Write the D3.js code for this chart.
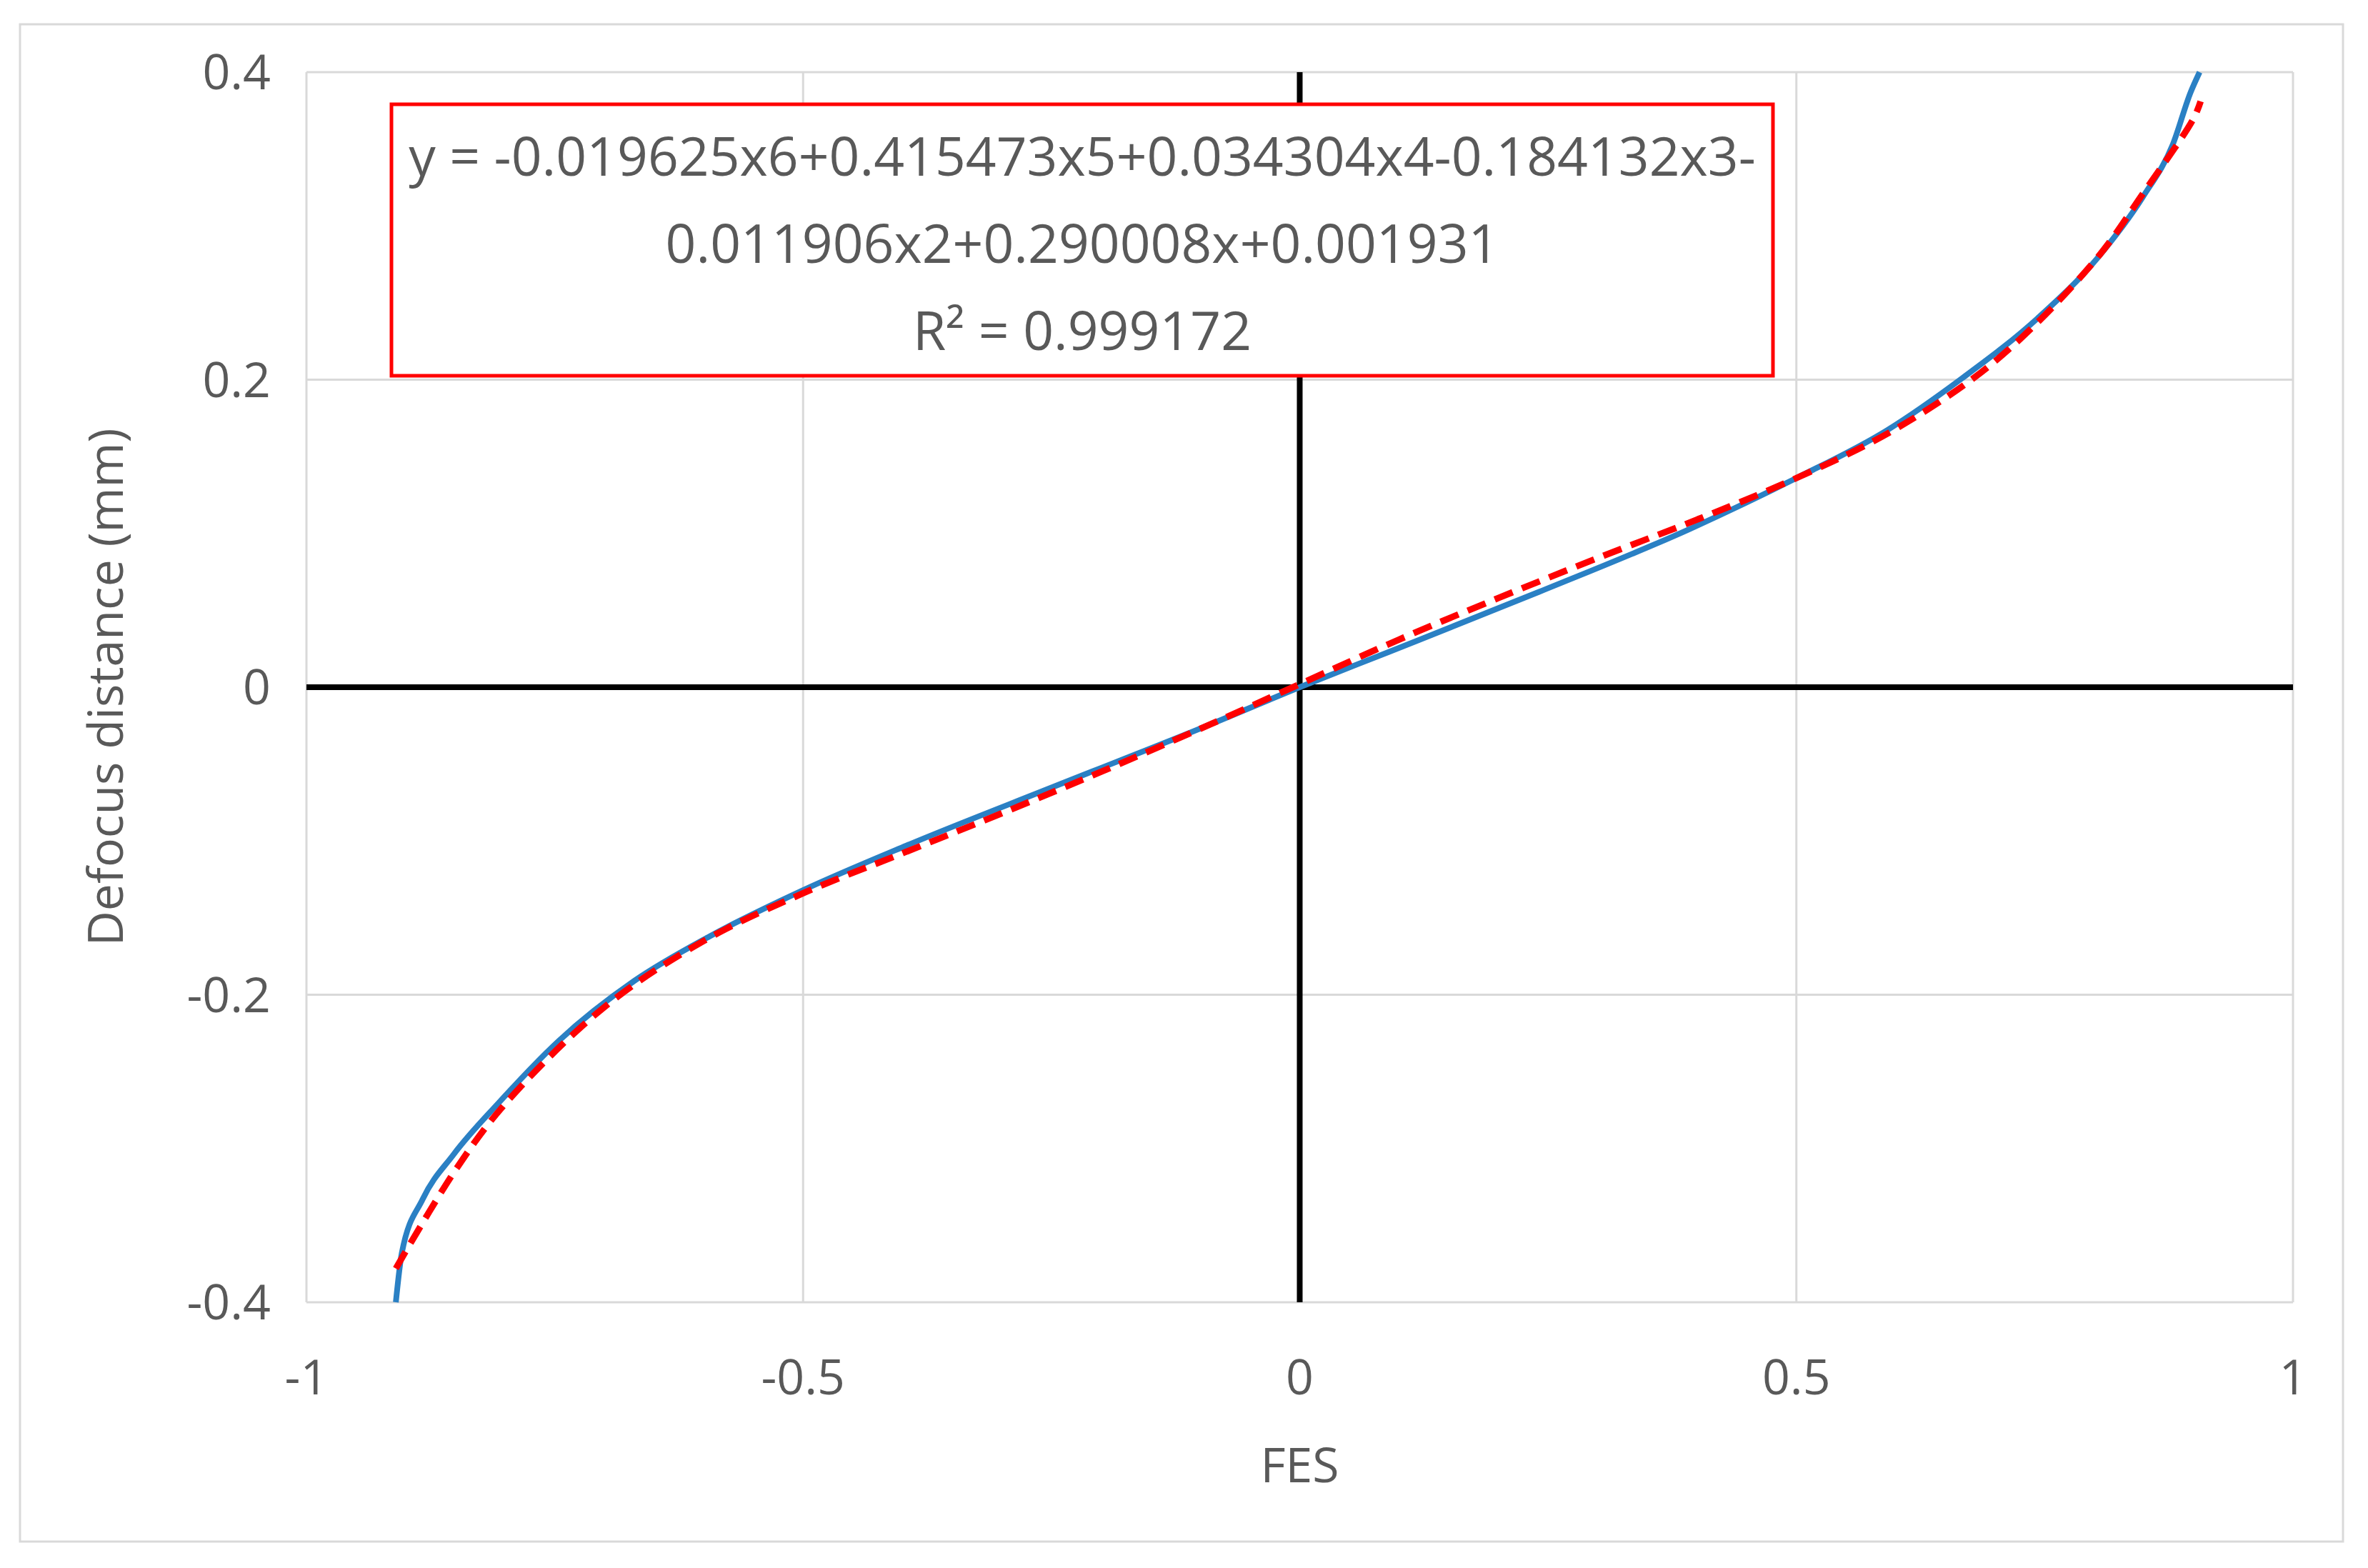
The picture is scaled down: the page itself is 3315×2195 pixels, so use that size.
<!DOCTYPE html>
<html><head><meta charset="utf-8">
<script src="https://cdn.jsdelivr.net/npm/d3@7"></script>
<style>body{margin:0;background:#fff}svg{display:block}text{font-family:"Open Sans","Noto Sans",sans-serif;fill:#595959}</style>
</head><body><svg id="c" width="3315" height="2195"></svg>
<script>
const xTicks=[-1,-0.5,0,0.5,1];
const yTicks=[-0.4,-0.2,0,0.2,0.4];
const measuredX=[-0.910,-0.904,-0.883,-0.852,-0.806,-0.746,-0.670,-0.594,-0.5,-0.396,-0.245,-0.093,0,0.09,0.241,0.393,0.5,0.591,0.667,0.743,0.803,0.849,0.879,0.897,0.906];
const measuredY=[-0.4,-0.368,-0.333,-0.304,-0.270,-0.230,-0.191,-0.162,-0.132,-0.103,-0.064,-0.025,0,0.023,0.062,0.103,0.136,0.167,0.201,0.240,0.279,0.319,0.353,0.387,0.4];
const fitX=[-0.91,-0.85,-0.8,-0.7,-0.6,-0.5,-0.4,-0.3,-0.2,-0.1,0,0.1,0.2,0.3,0.4,0.5,0.6,0.7,0.8,0.85,0.9,0.907];
const fitY=[-0.378,-0.314,-0.271,-0.208,-0.165,-0.134,-0.108,-0.082,-0.055,-0.027,0.002,0.031,0.058,0.084,0.109,0.136,0.168,0.212,0.277,0.322,0.370,0.381];
const eqLines=["y = -0.019625x6+0.415473x5+0.034304x4-0.184132x3-","0.011906x2+0.290008x+0.001931","R² = 0.999172"];

const svg=d3.select("#c");
svg.append("rect").attr("x",28).attr("y",34).attr("width",3252).attr("height",2124).attr("fill","#fff").attr("stroke","#d9d9d9").attr("stroke-width",3);
const L=429,R=3210,T=101,B=1823;
const x=d3.scaleLinear().domain([-1,1]).range([L,R]);
const y=d3.scaleLinear().domain([-0.4,0.4]).range([B,T]);
const g=svg.append("g");
g.selectAll(".gx").data(xTicks).join("line").attr("x1",d=>x(d)).attr("x2",d=>x(d)).attr("y1",T).attr("y2",B).attr("stroke","#d9d9d9").attr("stroke-width",3);
g.selectAll(".gy").data(yTicks).join("line").attr("y1",d=>y(d)).attr("y2",d=>y(d)).attr("x1",L).attr("x2",R).attr("stroke","#d9d9d9").attr("stroke-width",3);
g.append("line").attr("x1",x(0)).attr("x2",x(0)).attr("y1",T).attr("y2",B).attr("stroke","#000").attr("stroke-width",8);
g.append("line").attr("x1",L).attr("x2",R).attr("y1",y(0)).attr("y2",y(0)).attr("stroke","#000").attr("stroke-width",8);
const fmt=d=>d===0?"0":String(d);
g.selectAll(".xl").data(xTicks).join("text").attr("x",d=>x(d)).attr("y",1952).attr("text-anchor","middle").attr("font-size",68).text(fmt);
g.selectAll(".yl").data(yTicks).join("text").attr("x",L-50).attr("y",d=>y(d)+24).attr("text-anchor","end").attr("font-size",68).text(fmt);
svg.append("text").attr("x",x(0)).attr("y",2075).attr("text-anchor","middle").attr("font-size",68).text("FES");
svg.append("text").attr("transform","translate(172,"+((T+B)/2)+") rotate(-90)").attr("text-anchor","middle").attr("font-size",68).text("Defocus distance (mm)");
const blue=measuredX.map((v,i)=>[v,measuredY[i]]);
const red=fitX.map((v,i)=>[v,fitY[i]]);
const lineB=d3.line().x(d=>x(d[0])).y(d=>y(d[1])).curve(d3.curveMonotoneX);
const lineR=d3.line().x(d=>x(d[0])).y(d=>y(d[1])).curve(d3.curveCatmullRom.alpha(0.5));
g.append("path").attr("d",lineB(blue)).attr("fill","none").attr("stroke","#2a80c4").attr("stroke-width",8);
g.append("path").attr("d",lineR(red)).attr("fill","none").attr("stroke","#ff0000").attr("stroke-width",9).attr("stroke-dasharray","27,14");
svg.append("rect").attr("x",548).attr("y",146).attr("width",1934).attr("height",380).attr("fill","#fff").attr("stroke","#ff0000").attr("stroke-width",5);
svg.selectAll(".eq").data(eqLines).join("text").attr("x",1515).attr("y",(d,i)=>246+i*122).attr("text-anchor","middle").attr("font-size",75).text(d=>d);
</script></body></html>
